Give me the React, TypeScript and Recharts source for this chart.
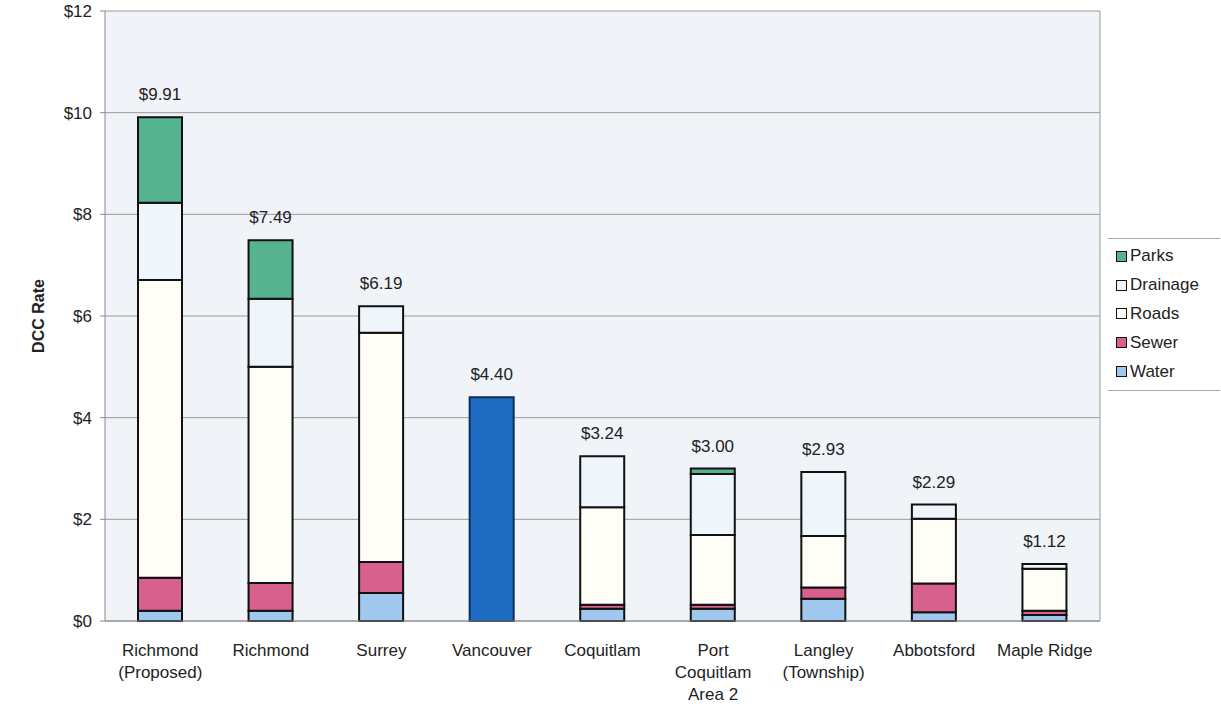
import { BarChart, Bar, XAxis, YAxis, CartesianGrid, LabelList } from "recharts";

const cities = [
  "Richmond|(Proposed)",
  "Richmond",
  "Surrey",
  "Vancouver",
  "Coquitlam",
  "Port|Coquitlam|Area 2",
  "Langley|(Township)",
  "Abbotsford",
  "Maple Ridge",
];
const water = [0.2, 0.2, 0.55, 0, 0.24, 0.24, 0.44, 0.17, 0.12];
const sewer = [0.65, 0.55, 0.61, 0, 0.08, 0.08, 0.22, 0.57, 0.08];
const roads = [5.86, 4.25, 4.51, 0, 1.92, 1.37, 1.01, 1.27, 0.83];
const drainage = [1.52, 1.34, 0.52, 0, 1.0, 1.2, 1.26, 0.28, 0.09];
const parks = [1.68, 1.15, 0, 0, 0, 0.11, 0, 0, 0];
const vancouverTotal = [0, 0, 0, 4.4, 0, 0, 0, 0, 0];
const totals = [9.91, 7.49, 6.19, 4.4, 3.24, 3.0, 2.93, 2.29, 1.12];
const yTicks = [0, 2, 4, 6, 8, 10, 12];

const data = cities.map((c, i) => ({
  city: c,
  water: water[i],
  sewer: sewer[i],
  roads: roads[i],
  drainage: drainage[i],
  parks: parks[i],
  vancouver: vancouverTotal[i],
  total: totals[i],
}));

const legendItems = [
  { name: "Parks", color: "#55b48f" },
  { name: "Drainage", color: "#eef5fb" },
  { name: "Roads", color: "#fffef6" },
  { name: "Sewer", color: "#d8608c" },
  { name: "Water", color: "#a0c8ee" },
];

const FONT = "'Liberation Sans', Arial, sans-serif";

function CityTick(props: any) {
  const { x, y, payload } = props;
  const lines = String(payload.value).split("|");
  return (
    <text x={x} y={y} textAnchor="middle" fontFamily={FONT} fontSize={17} fill="#222">
      {lines.map((l, i) => (
        <tspan key={i} x={x} y={y + 33 + i * 22}>
          {l}
        </tspan>
      ))}
    </text>
  );
}

function TotalLabel(props: any) {
  const { x, y, width, value } = props;
  return (
    <text x={x + width / 2} y={y - 17} textAnchor="middle" fontFamily={FONT} fontSize={17} fill="#222">
      {"$" + Number(value).toFixed(2)}
    </text>
  );
}

function SideLegend() {
  return (
    <div
      style={{
        position: "absolute",
        left: 1108,
        top: 238,
        width: 112,
        borderTop: "1px solid #aaa",
        borderBottom: "1px solid #aaa",
        padding: "3px 0 4px 8px",
        boxSizing: "border-box",
        fontFamily: FONT,
        fontSize: 17,
        color: "#222",
      }}
    >
      {legendItems.map((it) => (
        <div key={it.name} style={{ display: "flex", alignItems: "center", height: 28.8 }}>
          <span
            style={{
              display: "inline-block",
              width: 9,
              height: 9,
              background: it.color,
              border: "1.5px solid #111",
              marginRight: 3,
            }}
          />
          {it.name}
        </div>
      ))}
    </div>
  );
}

function YTitle(props: any) {
  const vb = props.viewBox;
  const cy = vb.y + vb.height / 2;
  return (
    <text
      x={40}
      y={cy}
      transform={`rotate(-90, 40, ${cy})`}
      textAnchor="middle"
      dominantBaseline="middle"
      fontFamily={FONT}
      fontSize={16}
      fontWeight="bold"
      fill="#222"
    >
      DCC Rate
    </text>
  );
}

export default function App() {
  return (
    <div style={{ position: "absolute", left: 0, top: 0, width: 1221, height: 704, background: "#fff" }}>
      <BarChart width={1221} height={704} data={data} margin={{ top: 11, right: 120, bottom: 0, left: 0 }} barSize={44}>
        <CartesianGrid vertical={false} stroke="#9c9c9c" fill="#f0f3f8" />
        <XAxis
          dataKey="city"
          height={83}
          tick={<CityTick />}
          tickLine={false}
          tickSize={0}
          axisLine={{ stroke: "#8a8a8a" }}
          interval={0}
        />
        <XAxis xAxisId="totals" dataKey="city" hide />
        <YAxis
          width={105}
          domain={[0, 12]}
          ticks={yTicks}
          tickFormatter={(v: number) => "$" + v}
          tick={{ fontFamily: FONT, fontSize: 17, fill: "#222" }}
          tickSize={5}
          tickMargin={8}
          axisLine={{ stroke: "#8a8a8a" }}
          tickLine={{ stroke: "#8a8a8a" }}
          label={<YTitle />}
        />
        <YAxis
          yAxisId="right"
          orientation="right"
          width={1}
          domain={[0, 12]}
          tick={false}
          tickLine={false}
          axisLine={{ stroke: "#9c9c9c" }}
        />
        <Bar dataKey="vancouver" stackId="a" fill="#1f6dc2" stroke="#0d2f5a" strokeWidth={2} isAnimationActive={false} legendType="none" />
        <Bar dataKey="water" name="Water" stackId="a" fill="#a0c8ee" stroke="#111" strokeWidth={2} isAnimationActive={false} />
        <Bar dataKey="sewer" name="Sewer" stackId="a" fill="#d8608c" stroke="#111" strokeWidth={2} isAnimationActive={false} />
        <Bar dataKey="roads" name="Roads" stackId="a" fill="#fffef6" stroke="#111" strokeWidth={2} isAnimationActive={false} />
        <Bar dataKey="drainage" name="Drainage" stackId="a" fill="#eef5fb" stroke="#111" strokeWidth={2} isAnimationActive={false} />
        <Bar dataKey="parks" name="Parks" stackId="a" fill="#55b48f" stroke="#111" strokeWidth={2} isAnimationActive={false} />
        <Bar
          xAxisId="totals"
          dataKey="total"
          fill="transparent"
          stroke="none"
          isAnimationActive={false}
          legendType="none"
        >
          <LabelList dataKey="total" content={<TotalLabel />} />
        </Bar>
      </BarChart>
      <SideLegend />
    </div>
  );
}
